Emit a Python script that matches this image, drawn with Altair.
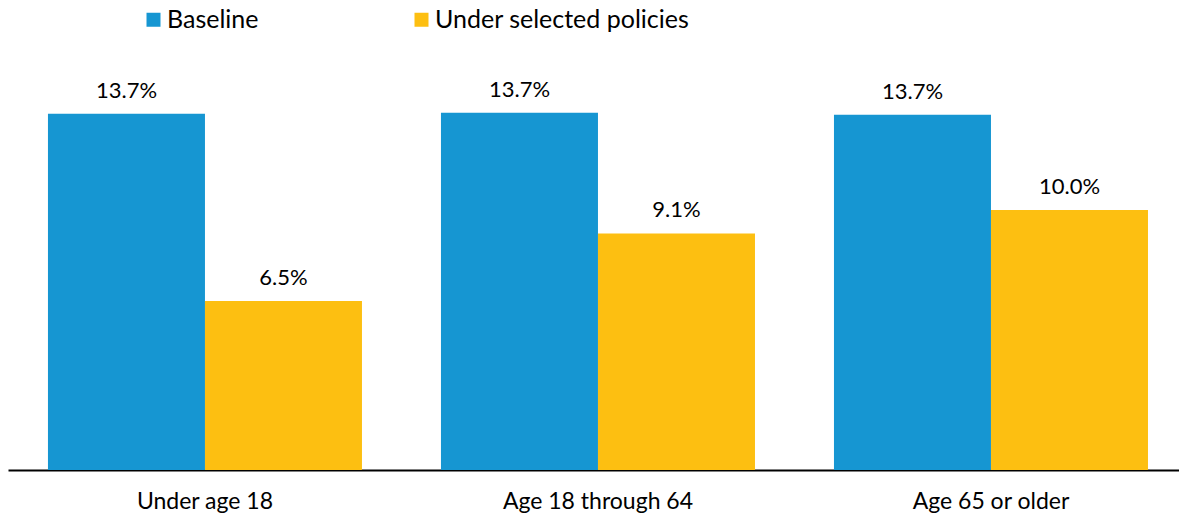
import altair as alt
import pandas as pd

categories = ["Under age 18", "Age 18 through 64", "Age 65 or older"]
series = ["Baseline", "Under selected policies"]
baseline = [13.70, 13.74, 13.66]
policies = [6.5, 9.1, 10.0]
colors = ["#1696d2", "#fdbf11"]

rows = []
for c, b, p in zip(categories, baseline, policies):
    rows.append({"cat": c, "series": series[0], "value": b})
    rows.append({"cat": c, "series": series[1], "value": p})
df = pd.DataFrame(rows)

x = alt.X(
    "cat:N",
    sort=categories,
    title=None,
    scale=alt.Scale(paddingInner=0.201, paddingOuter=0.0903, align=0.563),
    axis=alt.Axis(
        labelAngle=0,
        domainColor="black",
        domainWidth=2,
        ticks=False,
        tickSize=0,
        labelFont="Lato",
        labelFontSize=23,
        labelColor="black",
        labelPadding=38,
        labelBaseline="alphabetic",
        labelLimit=0,
    ),
)
xoff = alt.XOffset("series:N", sort=series, scale=alt.Scale(paddingInner=0, paddingOuter=0))
y = alt.Y("value:Q", scale=alt.Scale(domain=[0, 470 / 26], nice=False, zero=True), axis=None)

bars = alt.Chart().mark_bar().encode(
    x=x,
    xOffset=xoff,
    y=y,
    color=alt.Color(
        "series:N",
        sort=series,
        scale=alt.Scale(domain=series, range=colors),
        legend=alt.Legend(
            title=None,
            orient="none",
            legendX=133,
            legendY=7,
            padding=0,
            direction="horizontal",
            symbolType="square",
            symbolSize=196,
            symbolStrokeWidth=0,
            symbolOpacity=1,
            labelFont="Lato",
            labelFontSize=25,
            labelColor="black",
            labelOffset=1,
            labelLimit=0,
            columnPadding=150,
        ),
    ),
)

labels = alt.Chart().transform_calculate(
    label="format(datum.value, '.1f') + '%'"
).mark_text(dy=-16, baseline="alphabetic", fontSize=22, font="Lato", color="black").encode(
    x=x,
    xOffset=xoff,
    y=y,
    text="label:N",
)

chart = alt.layer(bars, labels, data=df).properties(
    width=1171,
    height=470,
    autosize=alt.AutoSizeParams(type="none"),
    padding={"left": 8, "top": 0, "right": 0, "bottom": 43},
    background="white",
).configure_view(stroke=None)

chart.save("out.html", embed_options={"renderer": "svg", "actions": False})
